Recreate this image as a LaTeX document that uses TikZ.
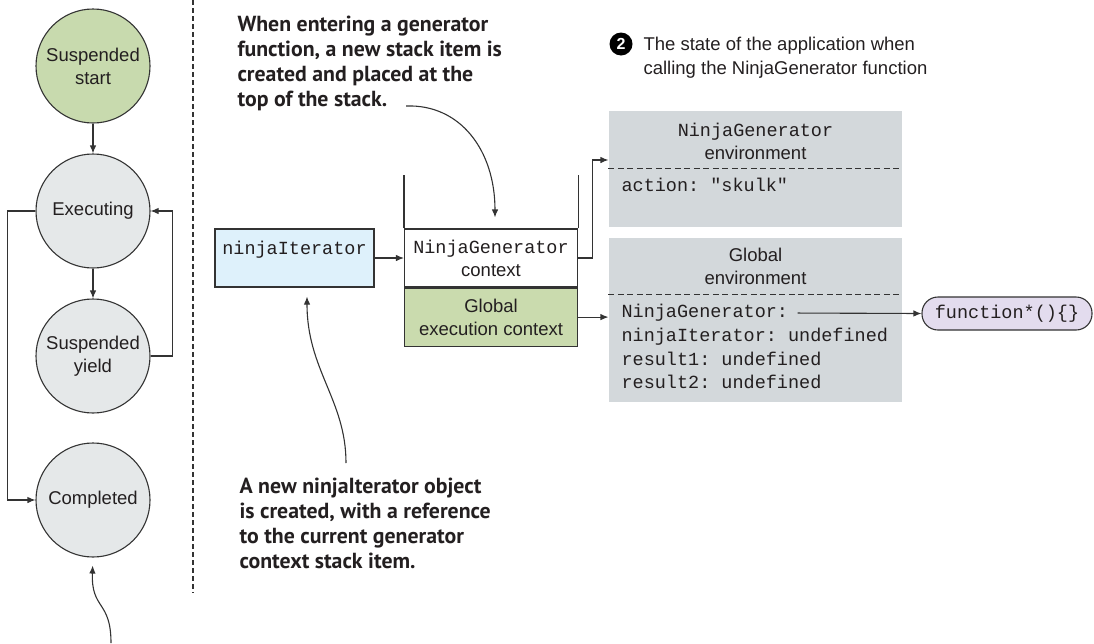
\documentclass[tikz,border=0pt]{standalone}
\usepackage{fontspec}
\setmainfont{Liberation Sans}
\setmonofont{Liberation Mono}
\newfontfamily\notefont{PT Sans}
\usetikzlibrary{arrows.meta, positioning}

\definecolor{linegray}{HTML}{333333}
\definecolor{notegray}{HTML}{231F20}
\definecolor{stategreen}{HTML}{C8DAAE}
\definecolor{stategray}{HTML}{E5E8E9}
\definecolor{iterblue}{HTML}{DEF1FB}
\definecolor{ctxgreen}{HTML}{CADBAE}
\definecolor{envgray}{HTML}{D3D8DB}
\definecolor{fnpurple}{HTML}{E3DCEE}

\newcommand\labelfont{\fontsize{18.5}{23}\selectfont}
\newcommand\codefont{\ttfamily\fontsize{18.5}{23}\selectfont}
\newcommand\capfont{\fontsize{18.5}{24}\selectfont}

\begin{document}
\begin{tikzpicture}[
        x=1pt, y=-1pt, line width=1.1pt, draw=linegray, text=notegray,
        state/.style={circle, draw=linegray, fill=stategray,
                      minimum size=114pt, inner sep=0pt, align=center, font=\labelfont},
        ctxbox/.style={rectangle, draw=linegray, fill=white, minimum width=173pt,
                       minimum height=58pt, inner sep=0pt, align=center, font=\labelfont},
        iterbox/.style={rectangle, draw=linegray, fill=iterblue, minimum width=159pt,
                        minimum height=58pt, inner sep=0pt, font=\codefont,
                        text height=19pt, text depth=27pt},
        envbox/.style={rectangle, fill=envgray, minimum width=293pt, inner sep=0pt},
        envtitle/.style={align=center, inner sep=0pt, font=\labelfont},
        envline/.style={anchor=west, inner sep=0pt, font=\codefont,
                        text height=11pt, text depth=3pt},
        envsep/.style={dash pattern=on 6pt off 3.5pt},
        fnbox/.style={rectangle, rounded corners=16pt, draw=linegray, fill=fnpurple,
                      minimum width=170pt, minimum height=33pt, inner sep=0pt, font=\codefont},
        note/.style={anchor=north west, align=left, inner sep=0pt,
                     font=\notefont\bfseries\fontsize{21.8}{25}\selectfont},
        >={Latex[length=8pt, width=6.5pt]}
    ]
        \useasboundingbox (0,0) rectangle (1094,643);

        % generator states
        \node[state, fill=stategreen] (start) at (93,66) {Suspended\\start};
        \node[state] (exec) at (93,211) {Executing};
        \node[state] (yield) at (93,356) {Suspended\\yield};
        \node[state] (done) at (93,500) {Completed};

        \draw[->] (start) -- (exec);
        \draw[->] (exec) -- (yield);
        \draw[->] (yield.east) -- ++(22,0) |- (exec.east);
        \draw[->] (exec.west) -- ++(-28,0) |- (done.west);

        \coordinate (doneNote) at (111,643);
        \draw[->, shorten >=8pt] (doneNote) .. controls (111,600) and (91,610) .. (done.south);

        \draw[dash pattern=on 5pt off 3pt] (193,0) -- (193,593);

        % execution context stack
        \node[ctxbox] (genctx) at (491,258) {\texttt{NinjaGenerator}\\context};
        \node[ctxbox, fill=ctxgreen, below=0pt of genctx] (globctx) {Global\\execution context};
        \draw (genctx.north west) -- ++(0,-53);
        \draw (genctx.north east) -- ++(0,-53);

        \node[iterbox] (iter) at (294.5,258) {ninjaIterator};
        \draw[->] (iter) -- (genctx);

        % environments
        \node[envbox, minimum height=116pt] (genenv) at (755.5,169) {};
        \node[envtitle] (genenvT) at (755.5,141) {\texttt{NinjaGenerator}\\environment};
        \draw[envsep] ([yshift=-58pt]genenv.north west) -- ([yshift=-58pt]genenv.north east);
        \node[envline] (action) at (621,187) {action: "skulk"};

        \node[envbox, minimum height=164pt] (globenv) at (755.5,320) {};
        \node[envtitle] (globenvT) at (755.5,266.5) {Global\\environment};
        \draw[envsep] ([yshift=-57pt]globenv.north west) -- ([yshift=-57pt]globenv.north east);
        \node[envline] (gngen) at (621,313) {NinjaGenerator:};
        \node[envline] (gniter) at (621,337) {ninjaIterator: undefined};
        \node[envline] (gnres1) at (621,361) {result1: undefined};
        \node[envline] (gnres2) at (621,384) {result2: undefined};

        \node[fnbox] (fnpill) at (1007,313.5) {function*()\{\}};
        \draw[->, shorten <=9pt] (gngen.east) -- (fnpill.west);

        \draw[->] (genctx.east) -- ++(14,0) |- ([yshift=9pt]genenv.west);
        \draw[->] (globctx.east) -- (globctx.east -| globenv.west);

        % caption
        \node[circle, fill=black, text=white, minimum size=23pt, inner sep=0pt,
              font=\bfseries\fontsize{16}{16}\selectfont] (num) at (621,44) {2};
        \node[anchor=north west, align=left, inner sep=0pt, font=\capfont] (caption)
            at (643,36.5) {The state of the application when\\calling the NinjaGenerator function};

        % callouts
        \node[note] (topnote) at (237,15)
            {When entering a generator\\function, a new stack item is\\created and placed at the\\top of the stack.};
        \coordinate (topnoteEnd) at (406,106);
        \draw[->, shorten >=11pt] (topnoteEnd) .. controls (460,104) and (495,150) .. ([xshift=4pt]genctx.north);

        \node[note] (botnote) at (239,477)
            {A new ninjaIterator object\\is created, with a reference\\to the current generator\\context stack item.};
        \coordinate (botnoteStart) at (346,463);
        \draw[->, shorten >=9pt] (botnoteStart) .. controls (346,400) and (307,370) .. ([xshift=12.5pt]iter.south);
    \end{tikzpicture}
\end{document}
